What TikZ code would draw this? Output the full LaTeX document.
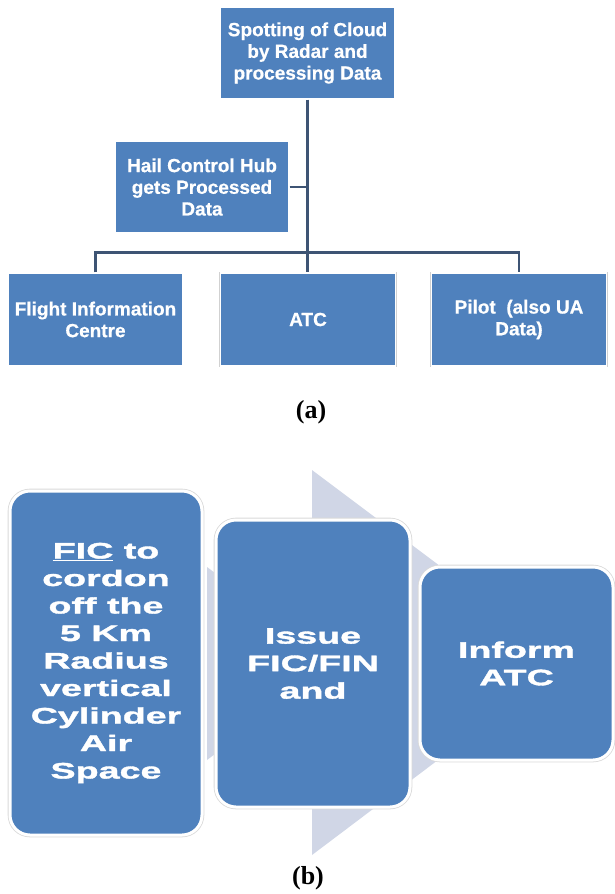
\documentclass[tikz,border=0pt]{standalone}
\usepackage{fontspec}
\setmainfont{Liberation Sans}
\newfontfamily\hfont[FakeBold=0.6]{Liberation Sans Bold}
\newfontfamily\wfont[FakeStretch=1.68,FakeBold=1.6]{Liberation Sans Bold}
\newfontfamily\capfont{Liberation Serif Bold}
\definecolor{boxblue}{RGB}{79,129,189}
\definecolor{linecol}{RGB}{62,84,116}
\definecolor{arrowgray}{RGB}{208,214,230}
\begin{document}
\begin{tikzpicture}[x=1pt,y=-1pt,
  topbox/.style={fill=boxblue, draw=white, line width=1.2pt,
    preaction={draw=black!18, line width=2.6pt},
    minimum width=175pt, minimum height=92pt, inner sep=0pt,
    align=center, text=white, font=\hfont\fontsize{19}{21.7}\selectfont},
  stepbox/.style={fill=boxblue, draw=white, line width=3pt, rounded corners=20pt,
    preaction={draw=black!15, line width=4.6pt},
    inner sep=0pt, align=center, text=white,
    font=\wfont\fontsize{22.4}{27.5}\selectfont},
  conn/.style={draw=linecol, line width=2.4pt},
  caption/.style={font=\capfont\fontsize{26}{28}\selectfont, inner sep=0pt}]
\useasboundingbox (0,0) rectangle (615,894);
% ---------- (a) ----------
\node[topbox] (top) at (307.5,53) {Spotting of Cloud\\by Radar and\\processing Data};
\node[topbox, minimum width=174pt] (hail) at (202,187) {Hail Control Hub\\gets Processed\\Data};
\node[topbox, minimum height=93pt] (fic) at (95.5,319.5) {Flight Information\\Centre};
\node[topbox, minimum height=93pt] (atc) at (308,319.5) {ATC};
\node[topbox, minimum height=93pt] (pilot) at (519,319.5) {Pilot\ \ (also UA\\Data)};
\draw[conn] (top.south) -- (top.south |- atc.north);
\draw[conn] (hail.east) -- (hail.east -| top.south);
\draw[conn] (fic.north) -- ++(0,-20) -| (pilot.north);
\node[caption] (capa) at (311,412) {(a)};
% ---------- (b) ----------
\fill[arrowgray] (312,470) -- (568,662) -- (312,855) -- cycle;
\fill[arrowgray] (207,567) -- (336,663) -- (207,760) -- cycle;
\node[stepbox, minimum width=192pt, minimum height=344pt] (b1) at (106,663)
  {\underline{FIC} to\\cordon\\off the\\5 Km\\Radius\\vertical\\Cylinder\\Air\\Space};
\node[stepbox, minimum width=194pt, minimum height=287pt] (b2) at (313,663.5)
  {Issue\\FIC/FIN\\and};
\node[stepbox, minimum width=193pt, minimum height=193pt] (b3) at (516.5,663.5)
  {Inform\\ATC};
\node[caption] (capb) at (308,878) {(b)};
\end{tikzpicture}
\end{document}
